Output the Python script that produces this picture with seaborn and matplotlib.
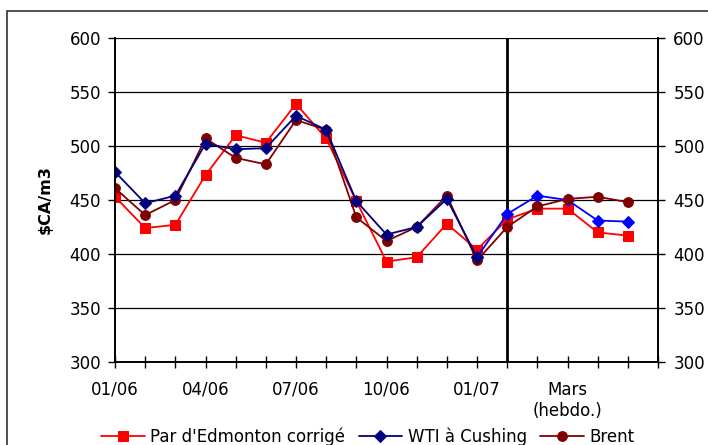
import numpy as np
import pandas as pd
import seaborn as sns
import matplotlib.pyplot as plt
from matplotlib.patches import Rectangle

# monthly points 01/06 .. 01/07, then weekly points (March)
edmonton = [453, 424, 427, 473, 510, 503, 539, 507, 449, 393, 397, 428, 404, 432, 442, 442, 420, 417]
wti = [476, 447, 454, 502, 497, 498, 528, 515, 449, 418, 425, 451, 397, 437, 454, 450, 431, 430]
brent = [461, 436, 450, 507, 489, 483, 524, 515, 434, 412, 425, 454, 394, 425, 444, 451, 453, 448]
x_labels = ["01/06", "04/06", "07/06", "10/06", "01/07", "Mars\n(hebdo.)"]
x_label_pos = [0, 3, 6, 9, 12, 15]
split_idx = 13  # start of weekly data

sns.set_style("white")
plt.rcParams['font.family'] = ['DejaVu Sans']
plt.rcParams['text.color'] = 'black'
plt.rcParams['axes.labelcolor'] = 'black'
plt.rcParams['xtick.color'] = 'black'
plt.rcParams['ytick.color'] = 'black'

df = pd.DataFrame({"idx": np.arange(len(edmonton)), "edm": edmonton, "wti": wti, "brent": brent})

fig = plt.figure(figsize=(7.08, 4.45), dpi=100)
ax = fig.add_axes([115 / 708, 1 - 362 / 445, 543 / 708, 324 / 445])

# figure frame (left and top edges visible)
fig.patches.append(Rectangle((7 / 708, -0.1), 1.2, 1 - 11 / 445 + 0.1, transform=fig.transFigure,
                             fill=False, edgecolor="#333333", lw=1.2))

for yv in [350, 400, 450, 500, 550, 600]:
    ax.axhline(yv, color="black", lw=0.9, zorder=1)

ax.axvline(split_idx, color="black", lw=2, zorder=2)

sns.lineplot(data=df, x="idx", y="edm", ax=ax, color="#FF0000", marker="s", markersize=7,
             markeredgecolor="#FF0000", lw=1.3, label="Par d'Edmonton corrigé", zorder=3)
monthly = df[df.idx <= split_idx - 1]
weekly = df[df.idx >= split_idx - 1]
sns.lineplot(data=weekly, x="idx", y="wti", ax=ax, color="#0000FF", marker="D", markersize=6,
             markeredgecolor="#0000FF", lw=1.3, legend=False, zorder=3)
sns.lineplot(data=monthly, x="idx", y="wti", ax=ax, color="#000080", marker="D", markersize=6,
             markeredgecolor="#000080", lw=1.3, label="WTI à Cushing", zorder=4)
sns.lineplot(data=df, x="idx", y="brent", ax=ax, color="#800000", marker="o", markersize=7,
             markeredgecolor="#800000", lw=1.3, label="Brent", zorder=3)

ax.set_xlim(0, 18)
ax.set_ylim(300, 600)
ax.set_xticks(range(19))
lbls = [""] * 19
for p, t in zip(x_label_pos, x_labels):
    lbls[p] = t
ax.set_xticklabels(lbls, fontsize=12, va="top")
ax.tick_params(axis="x", direction="inout", length=9, width=1, pad=9, color="black", bottom=True)
ax.set_yticks(range(300, 601, 50))
ax.tick_params(axis="y", direction="out", length=5, width=1, labelsize=12, pad=5, color="black", left=True)
ax.set_xlabel("")
ax.set_ylabel("$CA/m3", fontsize=11.5, fontweight="bold", labelpad=12)

ax2 = ax.twinx()
ax2.set_ylim(300, 600)
ax2.set_yticks(range(300, 601, 50))
ax2.tick_params(axis="y", direction="out", length=5, width=1, labelsize=12, pad=6, color="black", right=True)

for a in (ax, ax2):
    for s in ["left", "right", "bottom"]:
        a.spines[s].set_color("black")
        a.spines[s].set_linewidth(1.2)
    a.spines["top"].set_visible(False)

ax.get_legend().remove()
h, l = ax.get_legend_handles_labels()
fig.legend(h, l, loc="center", bbox_to_anchor=(368 / 708, 1 - 437 / 445), ncol=3, frameon=False,
           fontsize=12, handlelength=2.6, columnspacing=0.8, handletextpad=0.35)

fig.savefig("out.png", dpi=100)
